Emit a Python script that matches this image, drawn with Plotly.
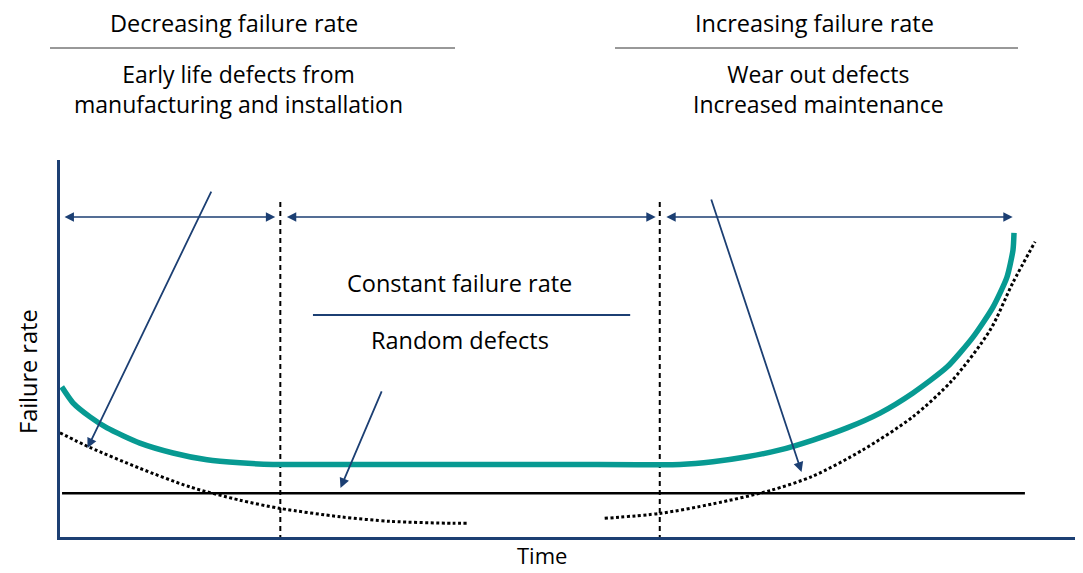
import plotly.graph_objects as go

# ---- data (time 0-100, failure rate 0-100, arbitrary units) ----
bathtub_t = [0.17, 1.27, 2.94, 4.61, 7.84, 11.08, 14.41, 17.65, 20.88, 30.0, 40.0, 50.0,
             60.78, 64.0, 67.35, 70.59, 73.82, 77.16, 80.39, 83.63, 86.96, 89.51, 91.47,
             92.84, 93.43, 93.53]
bathtub_r = [40.3, 36.1, 32.4, 29.5, 25.5, 22.9, 21.1, 20.3, 19.9, 19.9, 19.9, 19.9,
             19.9, 20.6, 21.9, 23.7, 26.3, 29.5, 33.4, 38.7, 45.5, 53.4, 61.3,
             69.2, 76.3, 80.8]

early_t = [0.0, 2.9, 7.8, 12.7, 17.6, 21.6, 27.5, 32.4, 38.5, 39.9]
early_r = [28.2, 24.4, 18.9, 14.0, 10.5, 8.3, 6.1, 4.9, 4.4, 4.4]

wear_t = [53.4, 58.8, 64.0, 69.6, 73.8, 78.7, 83.6, 87.5, 91.2, 93.4, 95.6]
wear_r = [5.7, 7.0, 9.5, 13.0, 16.8, 23.7, 32.4, 42.1, 55.3, 67.6, 78.5]

random_t = [0.2, 94.6]
random_r = [12.3, 12.3]

phase_bounds = [21.6, 58.8]          # vertical dashed phase boundaries
phase_top = 90.0
span_level = 85.0
spans = [(0.3, 21.1), (22.1, 58.4), (59.3, 93.4)]

# pointer arrows: (tail_t, tail_r, head_t, head_r)
pointers = [(14.9, 92.1, 2.7, 24.2), (31.6, 39.5, 27.5, 13.7), (63.8, 90.0, 72.7, 17.9)]

NAVY = "#1c3f73"
TEAL = "#079a92"
FONT = "Open Sans"
FS = 23.5

# page geometry (the page body has an 8px margin)
OFF = 8
W, H = 1083 - OFF, 573 - OFF
PL, PR, PT, PB = 60, 1080, 160, 537   # plot box in window pixels


def px(x):
    return (x - PL) / (PR - PL)


def py(y):
    return (PB - y) / (PB - PT)


fig = go.Figure()

for xb in phase_bounds:
    fig.add_trace(go.Scatter(x=[xb, xb], y=[0, phase_top], mode="lines",
                             line=dict(color="black", width=2, dash="5px,4px"),
                             hoverinfo="skip", showlegend=False))

fig.add_trace(go.Scatter(x=random_t, y=random_r, mode="lines",
                         line=dict(color="black", width=2.5), showlegend=False))
fig.add_trace(go.Scatter(x=early_t, y=early_r, mode="lines",
                         line=dict(color="black", width=3, dash="3px,2.5px", shape="spline",
                                   smoothing=0.8), showlegend=False))
fig.add_trace(go.Scatter(x=wear_t, y=wear_r, mode="lines",
                         line=dict(color="black", width=3, dash="3px,2.5px", shape="spline",
                                   smoothing=0.8), showlegend=False))
fig.add_trace(go.Scatter(x=bathtub_t, y=bathtub_r, mode="lines",
                         line=dict(color=TEAL, width=5.5, shape="spline", smoothing=0.6),
                         showlegend=False))

annotations = []
for a, b in spans:
    annotations.append(dict(x=b, y=span_level, ax=a, ay=span_level, xref="x", yref="y",
                            axref="x", ayref="y", text="", showarrow=True,
                            arrowside="end+start", arrowhead=2, arrowsize=1.1,
                            arrowwidth=1.7, arrowcolor=NAVY, standoff=0, startstandoff=0))
for tt, tr, ht, hr in pointers:
    annotations.append(dict(x=ht, y=hr, ax=tt, ay=tr, xref="x", yref="y",
                            axref="x", ayref="y", text="", showarrow=True,
                            arrowhead=2, arrowsize=1.1, arrowwidth=1.8, arrowcolor=NAVY,
                            standoff=0))


def txt(x, y, s, xref="x", yref="y", angle=0, size=FS, yanchor="middle"):
    return dict(x=x, y=y, xref=xref, yref=yref, text=s, showarrow=False,
                textangle=angle, font=dict(family=FONT, size=size, color="black"),
                xanchor="center", yanchor=yanchor)


annotations += [
    txt(39.2, 67.6, "Constant failure rate"),
    txt(39.2, 52.6, "Random defects"),
    txt(px(234), py(23), "Decreasing failure rate", "paper", "paper"),
    txt(px(238), py(89), "Early life defects from<br>manufacturing and installation",
        "paper", "paper", size=23),
    txt(px(814), py(23), "Increasing failure rate", "paper", "paper"),
    txt(px(818), py(89), "Wear out defects<br>Increased maintenance", "paper", "paper",
        size=23),
    txt(px(542), py(572), "Time", "paper", "paper", size=22, yanchor="bottom"),
    txt(px(28), py(372), "Failure rate", "paper", "paper", -90),
]

shapes = [
    dict(type="line", xref="x", yref="y", x0=24.8, x1=55.9, y0=59.2, y1=59.2,
         line=dict(color=NAVY, width=2)),
    dict(type="line", xref="paper", yref="paper", x0=px(50), x1=px(455), y0=py(48), y1=py(48),
         line=dict(color="#333333", width=1)),
    dict(type="line", xref="paper", yref="paper", x0=px(615), x1=px(1018), y0=py(48), y1=py(48),
         line=dict(color="#333333", width=1)),
]

fig.update_layout(
    width=W, height=H,
    margin=dict(l=PL - OFF, r=(W + OFF) - PR, t=PT - OFF, b=(H + OFF) - PB),
    plot_bgcolor="white", paper_bgcolor="white",
    annotations=annotations, shapes=shapes,
    showlegend=False,
)
fig.update_xaxes(range=[0, 100], showgrid=False, zeroline=False, showticklabels=False,
                 ticks="", showline=True, linecolor=NAVY, linewidth=3)
fig.update_yaxes(range=[(540 - PB) / 3.8, 100], showgrid=False, zeroline=False,
                 showticklabels=False, ticks="", showline=True, linecolor=NAVY, linewidth=3)

fig.write_html("out.html")
